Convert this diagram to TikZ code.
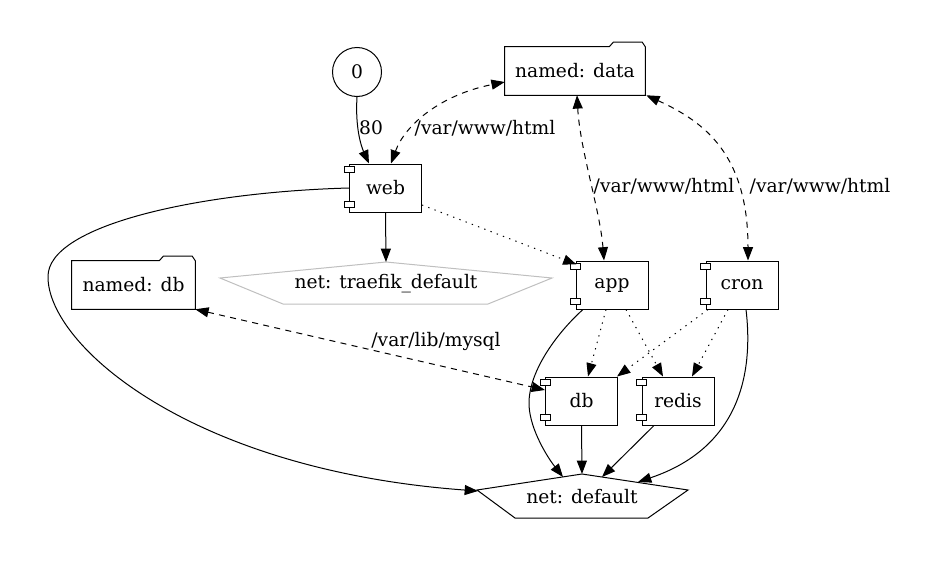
\documentclass[tikz,border=0pt]{standalone}
\usepackage{fontspec}
\setmainfont{DejaVu Serif}
\usetikzlibrary{arrows.meta,calc}
\tikzset{
  edge/.style={line width=0.75pt, draw=black},
  tip/.tip={Triangle[length=10pt,width=7.5pt]},
  arr/.style={edge, -tip},
  biarr/.style={edge, tip-tip, dash pattern=on 4.5pt off 4pt},
  dotarr/.style={arr, dash pattern=on 1pt off 4pt},
  comp/.style={draw=black, line width=0.75pt, rectangle, minimum width=54pt, minimum height=36pt, inner sep=0pt},
  circ/.style={draw=black, line width=0.75pt, circle, minimum size=36.75pt, inner sep=0pt},
  folder/.style={rectangle, minimum height=36pt, inner sep=0pt},
  plain/.style={inner sep=0pt},
  lbl/.style={inner sep=0pt},
}
\begin{document}
\begin{tikzpicture}[x=0.75pt, y=-0.75pt, font=\fontsize{14pt}{16pt}\selectfont]
\useasboundingbox (0,0) rectangle (938,571);

% nodes
\node[circ] (n0) at (357,72) {0};
\node[folder, minimum width=105pt] (data) at (575,71) {named: data};
\node[folder, minimum width=92.25pt] (ndb) at (133.5,285) {named: db};
\node[comp] (web) at (385.5,188) {web};
\node[comp] (app) at (612,285) {app};
\node[comp] (cron) at (742,285) {cron};
\node[comp] (db) at (581.5,401) {db};
\node[comp] (redis) at (678,401) {redis};
\node[plain] (tr) at (386,284) {net: traefik\_default};
\node[plain] (nd) at (582,497) {net: default};

% folder outlines
\foreach \f in {data,ndb}{
  \draw[edge] (\f.south west) -- (\f.north west) -- ($(\f.north east)+(-36,0)$)
    -- ($(\f.north east)+(-32,-4.5)$) -- ($(\f.north east)+(-3,-4.5)$)
    -- (\f.north east) -- (\f.south east) -- cycle;
}
% component ports
\foreach \c in {web,app,cron,db,redis}{
  \draw[line width=0.75pt, fill=white] ($(\c.north west)+(-5,3.3)$) rectangle ($(\c.north west)+(5,9.3)$);
  \draw[line width=0.75pt, fill=white] ($(\c.south west)+(-5,-10.7)$) rectangle ($(\c.south west)+(5,-4.7)$);
}
% pentagons
\draw[line width=0.75pt, draw=black!25] ($(tr)+(0,-22)$) -- ($(tr)+(166,-6)$) -- ($(tr)+(102,20)$)
  -- ($(tr)+(-103,20)$) -- ($(tr)+(-166,-6)$) -- cycle;
\draw[edge] ($(nd)+(0,-23)$) -- ($(nd)+(106,-7)$) -- ($(nd)+(66,21)$)
  -- ($(nd)+(-67,21)$) -- ($(nd)+(-105,-7)$) -- cycle;

\coordinate (trtop) at ($(tr)+(0,-22)$);
\coordinate (ndtop) at ($(nd)+(0,-23)$);
\coordinate (ndW) at ($(nd)+(-104,-6)$);
\coordinate (ndA) at ($(nd)+(-19,-20)$);
\coordinate (ndR) at ($(nd)+(20,-20)$);
\coordinate (ndC) at ($(nd)+(56,-15)$);

% edges
\draw[arr] (n0.south) .. controls (355,130) and (362,148) .. ($(web.north)+(-16.5,0)$);
\node[lbl] (l80) at (371,128) {80};

\draw[biarr] ($(web.north)+(5.5,0)$) .. controls (405,125) and (440,95) .. ($(data.west)+(0,11)$);
\node[lbl] (l1) at (485,128) {/var/www/html};

\draw[biarr] ($(data.south)+(2,0)$) .. controls (580,150) and (600,210) .. ($(app.north)+(-8,0)$);
\node[lbl] (l2) at (664,186) {/var/www/html};

\draw[biarr] ($(data.south east)+(1,0)$) .. controls (705,122) and (748,155) .. ($(cron.north)+(6,0)$);
\node[lbl] (l3) at (820,186) {/var/www/html};

\draw[biarr] (ndb.south east) -- ($(db.west)+(0,-11)$);
\node[lbl] (l4) at (436,341) {/var/lib/mysql};

\draw[arr] (web.south) -- (trtop);
\draw[dotarr] ($(web.east)+(0,17)$) -- ($(app.north west)+(1,4)$);

\draw[arr] (web.west) .. controls (200,192) and (47,225) .. (48,277)
  .. controls (48,345) and (190,470) .. (ndW);

\draw[dotarr] ($(app.south)+(-6,0)$) -- ($(db.north)+(6.5,0)$);
\draw[dotarr] ($(app.south)+(14,0)$) -- ($(redis.north)+(-15,0)$);
\draw[dotarr] ($(cron.south)+(-34,0)$) -- ($(db.north east)+(-1,0)$);
\draw[dotarr] ($(cron.south)+(-14,0)$) -- ($(redis.north)+(14,0)$);

\draw[arr] ($(app.south)+(-29,0)$) .. controls (560,330) and (528,370) .. (529,405)
  .. controls (530,430) and (548,458) .. (ndA);
\draw[arr] ($(cron.south)+(4,0)$) .. controls (752,360) and (748,445) .. (ndC);
\draw[arr] (db.south) -- (ndtop);
\draw[arr] ($(redis.south)+(-24,0)$) -- (ndR);
\end{tikzpicture}
\end{document}
